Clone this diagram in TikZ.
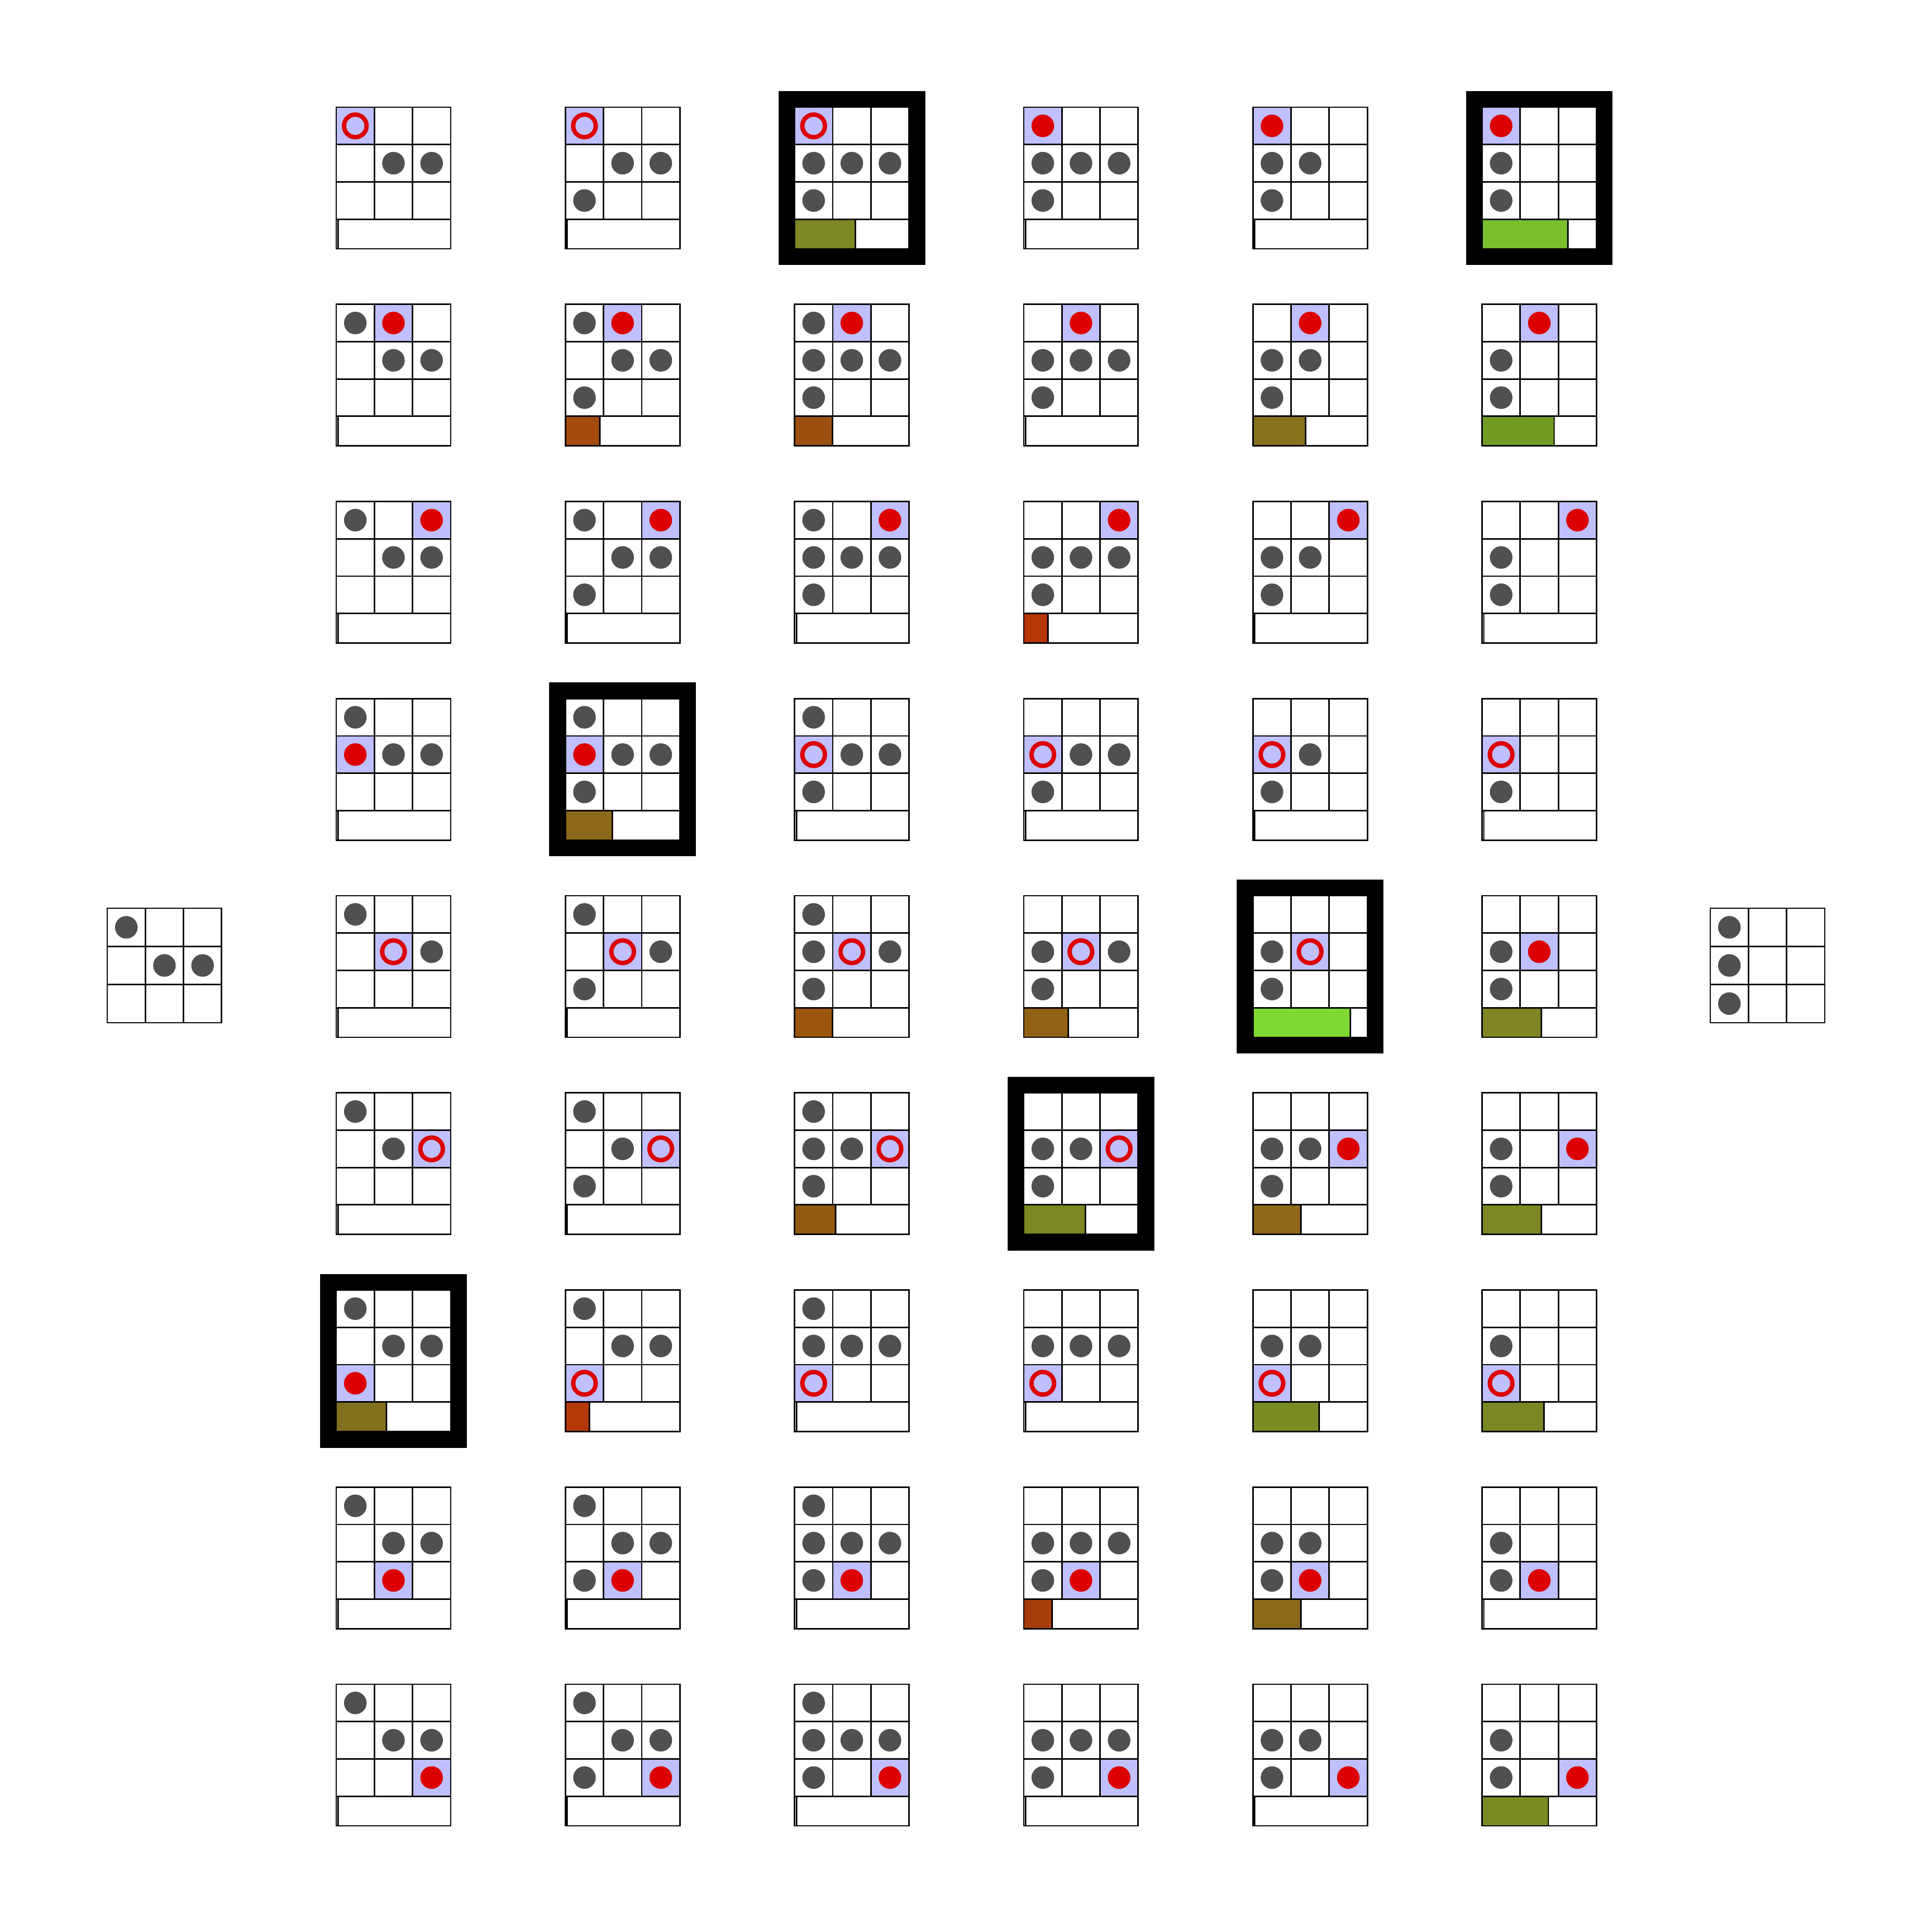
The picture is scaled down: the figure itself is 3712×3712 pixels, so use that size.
\documentclass[tikz,border=0pt]{standalone}

\definecolor{stonegrey}{RGB}{80,80,80}
\definecolor{pickred}{RGB}{220,0,0}
\definecolor{pickblue}{RGB}{192,192,255}

% 3x3 board: x, y (top left), cell height, occupancy list, picked cell (-1 for none)
\newcommand{\boardcells}[5]{%
  \edef\celllist{#4}%
  \foreach \o [count=\k from 0] in \celllist {
    \pgfmathtruncatemacro\ci{int(\k/3)}
    \pgfmathtruncatemacro\cj{mod(\k,3)}
    \pgfmathsetmacro\cx{#1+73.3*\cj}
    \pgfmathsetmacro\cy{#2+#3*\ci}
    \ifnum\k=#5\relax \fill[pickblue] (\cx,\cy) rectangle ++(73.3,#3); \fi
    \draw[cellline] (\cx,\cy) rectangle ++(73.3,#3);
    \ifnum\k=#5\relax
      \ifnum\o=1\relax \draw[ring] (\cx+36.65,\cy+#3/2) circle (0.217cm);
      \else \fill[pickred] (\cx+36.65,\cy+#3/2) circle (0.217cm); \fi
    \else
      \ifnum\o=1\relax \fill[stonegrey] (\cx+36.65,\cy+#3/2) circle (0.217cm); \fi
    \fi
  }}

\begin{document}
\begin{tikzpicture}[x=0.01cm, y=-0.01cm,
    cellline/.style={draw=black, line width=0.8pt},
    ring/.style={draw=pickred, line width=2.4pt},
    barline/.style={draw=black, line width=0.8pt},
    chosen/.style={draw=black, line width=0.31cm}]
  \useasboundingbox (0,0) rectangle (3712,3712);

  % start and final position
  \boardcells{206}{1745}{73.3}{1,0,0,0,1,1,0,0,0}{-1}
  \boardcells{3286}{1745}{73.3}{1,0,0,1,0,0,1,0,0}{-1}

  % one column per step, one row per cell
  \foreach \c/\occ/\pick in {0/{1,0,0,0,1,1,0,0,0}/6, 1/{1,0,0,0,1,1,1,0,0}/3,
      2/{1,0,0,1,1,1,1,0,0}/0, 3/{0,0,0,1,1,1,1,0,0}/5,
      4/{0,0,0,1,1,0,1,0,0}/4, 5/{0,0,0,1,0,0,1,0,0}/0} {
    \foreach \r in {0,...,8} {
      \pgfmathsetmacro\X{646+440.3*\c}
      \pgfmathsetmacro\Y{206+378.75*\r}
      \ifnum\r=\pick\relax
        \draw[chosen] (\X-15.5,\Y-15.5) rectangle (\X+235.4,\Y+287.5);
      \fi
      \boardcells{\X}{\Y}{71.7}{\occ}{\r}
      \draw[barline] (\X,\Y+215.1) rectangle (\X+219.9,\Y+272);
      \draw[barline] (\X,\Y+215.1) rectangle (\X+3.5,\Y+272);
    }
  }

  % bars
  \foreach \r/\c/\v/\R/\G/\B in {0/2/0.53/125/135/35, 0/5/0.75/120/190/45,
      1/1/0.30/165/75/15, 1/2/0.33/155/80/15, 1/4/0.46/135/115/30, 1/5/0.63/115/155/35,
      2/3/0.21/180/55/5, 3/1/0.41/140/105/25,
      4/2/0.33/155/85/15, 4/3/0.39/145/98/22, 4/4/0.85/128/217/50, 4/5/0.52/128/133/35,
      5/2/0.36/145/90/20, 5/3/0.54/125/135/35, 5/4/0.42/140/105/25, 5/5/0.52/125/135/35,
      6/0/0.44/130/112/30, 6/1/0.21/180/55/10, 6/4/0.58/120/140/35, 6/5/0.54/123/135/35,
      7/3/0.25/165/60/10, 7/4/0.42/138/105/25, 8/5/0.58/120/140/35} {
    \definecolor{barfill}{RGB}{\R,\G,\B}
    \pgfmathsetmacro\X{646+440.3*\c}
    \pgfmathsetmacro\Y{206+378.75*\r}
    \draw[barline, fill=barfill] (\X,\Y+215.1) rectangle (\X+219.9*\v,\Y+272);
  }
\end{tikzpicture}
\end{document}
